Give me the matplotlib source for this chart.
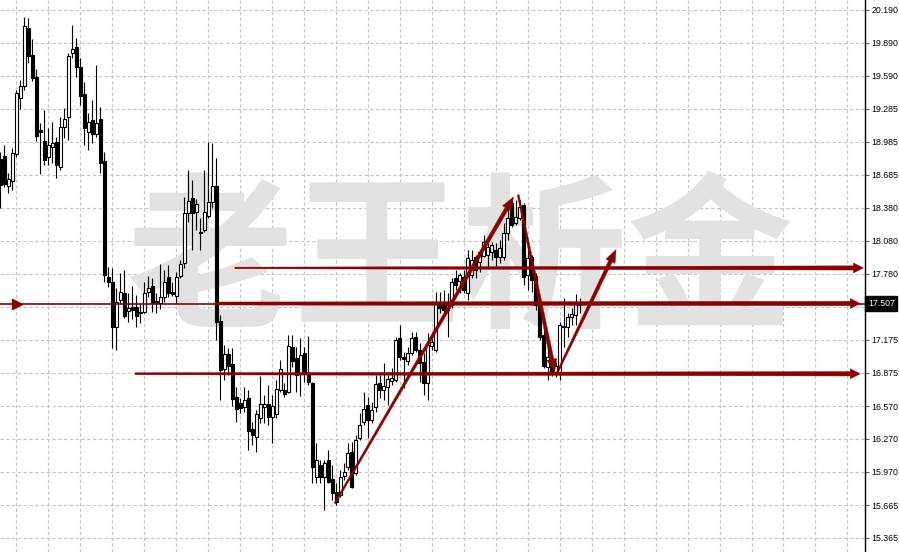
import numpy as np
import matplotlib.pyplot as plt
from matplotlib.patches import Polygon

plt.rcParams['font.family'] = ['Noto Sans CJK SC', 'DejaVu Sans']

# OHLC, one bar per candle
opens = [18.828, 18.855, 18.581, 18.627, 18.873, 19.385, 19.495, 20.025, 19.778, 19.577,
         19.093, 18.992, 18.846, 18.937, 18.983, 18.755, 19.120, 19.212, 19.797, 19.851,
         19.669, 19.422, 19.074, 19.184, 19.056, 19.193, 18.809, 17.749, 17.703, 17.292,
         17.539, 17.603, 17.438, 17.475, 17.475, 17.429, 17.429, 17.612, 17.667, 17.530,
         17.512, 17.566, 17.749, 17.612, 17.576, 17.758, 17.877, 18.334, 18.471, 18.343,
         18.160, 18.179, 18.307, 18.435, 18.581, 17.347, 16.909, 17.045, 16.954, 16.652,
         16.598, 16.561, 16.643, 16.360, 16.287, 16.460, 16.561, 16.588, 16.470, 16.497,
         16.717, 16.717, 16.698, 17.110, 17.009, 16.863, 17.054, 16.872, 16.780, 15.921,
         16.031, 15.921, 16.077, 15.903, 15.784, 15.757, 15.930, 16.013, 16.150, 15.958,
         16.278, 16.424, 16.579, 16.442, 16.561, 16.780, 16.717, 16.744, 16.799, 16.808,
         17.192, 17.018, 16.982, 17.054, 17.201, 17.082, 16.972, 16.780, 17.119, 17.082,
         17.521, 17.521, 17.447, 17.493, 17.740, 17.712, 17.749, 17.603, 17.767, 17.932,
         17.886, 17.941, 17.950, 17.978, 17.996, 17.932, 17.932, 18.151, 18.426, 18.243,
         18.288, 18.407, 17.767, 17.932, 17.758, 17.493, 17.219, 16.927, 16.963, 16.872,
         16.863, 17.292, 17.292, 17.384, 17.402, 17.493]
closes = [18.590, 18.599, 18.645, 18.883, 19.431, 19.495, 20.043, 19.769, 19.568, 19.038,
          19.074, 18.819, 18.956, 18.974, 18.773, 19.120, 19.193, 19.769, 19.833, 19.669,
          19.404, 19.111, 19.166, 19.056, 19.157, 18.791, 17.767, 17.703, 17.292, 17.521,
          17.612, 17.393, 17.466, 17.447, 17.393, 17.420, 17.603, 17.649, 17.512, 17.512,
          17.566, 17.703, 17.603, 17.594, 17.749, 17.868, 18.334, 18.444, 18.334, 18.416,
          18.151, 18.343, 18.435, 18.581, 17.338, 16.899, 17.045, 16.936, 16.634, 16.543,
          16.552, 16.625, 16.342, 16.305, 16.497, 16.588, 16.588, 16.470, 16.570, 16.726,
          16.909, 16.680, 17.119, 16.982, 16.854, 17.036, 16.872, 16.790, 16.013, 16.077,
          15.921, 16.049, 15.875, 15.775, 15.693, 15.921, 15.967, 16.141, 15.830, 16.259,
          16.396, 16.543, 16.442, 16.534, 16.771, 16.717, 16.753, 16.817, 16.826, 17.173,
          17.018, 17.000, 17.054, 17.192, 17.082, 16.963, 16.780, 17.128, 17.155, 17.521,
          17.466, 17.447, 17.493, 17.703, 17.676, 17.767, 17.630, 17.923, 17.905, 17.813,
          17.978, 18.069, 18.023, 18.041, 17.932, 18.014, 18.151, 18.288, 18.224, 18.297,
          18.389, 17.749, 17.923, 17.722, 17.493, 17.201, 16.936, 17.018, 16.881, 16.936,
          17.310, 17.301, 17.384, 17.411, 17.521, 17.507]
highs = [18.892, 18.956, 18.700, 18.928, 19.458, 19.550, 20.126, 20.117, 19.925, 19.650,
         19.157, 19.276, 19.111, 19.166, 19.029, 19.212, 19.294, 19.797, 20.052, 19.934,
         19.751, 19.531, 19.248, 19.367, 19.687, 19.303, 18.892, 17.841, 17.832, 17.649,
         17.786, 17.813, 17.603, 17.667, 17.585, 17.502, 17.703, 17.758, 17.740, 17.603,
         17.868, 17.813, 17.859, 17.703, 17.795, 17.905, 18.480, 18.727, 18.636, 18.462,
         18.288, 18.727, 18.983, 18.974, 18.837, 17.402, 17.128, 17.100, 17.100, 16.744,
         16.643, 16.744, 16.717, 16.424, 16.534, 16.845, 16.671, 16.762, 16.671, 16.808,
         16.991, 16.780, 17.219, 17.219, 17.110, 17.192, 17.110, 17.210, 16.790, 16.232,
         16.077, 16.077, 16.168, 16.031, 15.866, 15.985, 16.049, 16.232, 16.241, 16.305,
         16.506, 16.698, 16.652, 16.607, 16.854, 16.854, 16.963, 16.854, 16.918, 17.201,
         17.310, 17.064, 17.110, 17.247, 17.247, 17.146, 17.054, 17.238, 17.238, 17.612,
         17.612, 17.630, 17.603, 17.740, 17.813, 17.786, 17.813, 17.996, 17.996, 17.950,
         17.996, 18.133, 18.060, 18.069, 18.060, 18.087, 18.243, 18.380, 18.480, 18.453,
         18.453, 18.426, 17.996, 17.950, 17.786, 17.521, 17.265, 17.091, 16.991, 16.972,
         17.338, 17.557, 17.420, 17.466, 17.594, 17.557]
lows = [18.380, 18.572, 18.517, 18.544, 18.846, 19.285, 19.458, 19.705, 19.541, 18.992,
        18.691, 18.773, 18.773, 18.791, 18.654, 18.727, 19.020, 19.001, 19.751, 19.577,
        19.321, 18.956, 18.910, 18.974, 19.029, 18.700, 17.703, 17.658, 17.100, 17.082,
        17.512, 17.374, 17.338, 17.365, 17.292, 17.329, 17.420, 17.566, 17.429, 17.420,
        17.457, 17.521, 17.566, 17.576, 17.512, 17.740, 17.832, 18.252, 17.996, 18.179,
        17.996, 18.160, 18.288, 18.380, 17.173, 16.625, 16.808, 16.854, 16.570, 16.424,
        16.506, 16.515, 16.168, 16.214, 16.150, 16.415, 16.415, 16.396, 16.232, 16.460,
        16.698, 16.652, 16.689, 16.927, 16.698, 16.661, 16.790, 16.762, 15.866, 15.866,
        15.866, 15.620, 15.866, 15.711, 15.665, 15.738, 15.894, 15.985, 15.821, 15.940,
        16.259, 16.396, 16.278, 16.415, 16.515, 16.643, 16.625, 16.579, 16.762, 16.790,
        16.991, 16.735, 16.945, 17.036, 17.064, 16.790, 16.671, 16.625, 17.082, 17.064,
        17.420, 17.420, 17.201, 17.466, 17.630, 17.603, 17.603, 17.539, 17.740, 17.740,
        17.795, 17.932, 17.841, 17.905, 17.850, 17.877, 17.905, 18.087, 18.206, 18.224,
        18.270, 17.676, 17.630, 17.612, 17.447, 17.173, 16.918, 16.808, 16.845, 16.836,
        16.808, 17.110, 17.201, 17.310, 17.310, 17.420]

price_ticks = [20.190, 19.890, 19.590, 19.285, 18.985, 18.685, 18.380, 18.080, 17.780,
               17.475, 17.175, 16.875, 16.570, 16.270, 15.970, 15.665, 15.365]
last_price = 17.507

# drawn objects: horizontal levels (price, first bar, tip bar) and trend arrows
level_prices = [17.832, 17.507, 16.865]
level_start = [58.7, 53.7, 33.7]
level_tip = [216.0, 215.2, 215.2]
trend_from = [(83.7, 15.68), (129.6, 18.50), (139.3, 16.87)]
trend_to = [(128.4, 18.48), (138.7, 16.88), (154.1, 18.00)]
marker_bar = 4.2

RED = '#8b0000'

fig = plt.figure(figsize=(8.99, 5.52), dpi=100)
ax = fig.add_axes([0, 0, 865 / 899, 1])
ax.set_xlim(-0.1, 216.4)
ax.set_ylim(15.236, 20.281)

# grid
ax.set_xticks(np.arange(4, 217, 8))
ax.tick_params(axis='x', length=0, labelbottom=False)
ax.set_yticks(price_ticks)
# the 17.475 label sits under the current price box
ax.set_yticklabels(['' if abs(v - 17.475) < 1e-6 else f'{v:.3f}' for v in price_ticks],
                   family='Liberation Sans')
ax.yaxis.tick_right()
ax.tick_params(axis='y', length=3, width=0.8, color='#606060', labelsize=6.3, pad=1.5,
               labelcolor='black')
ax.grid(True, linestyle=(0, (3, 2.2)), color='#c4c4c4', linewidth=0.8)
ax.set_axisbelow(True)
for side in ['left', 'top', 'bottom']:
    ax.spines[side].set_visible(False)
ax.spines['right'].set_color('black')
ax.spines['right'].set_linewidth(1.0)

# watermark
ax.text(460 / 865, 1 - 265 / 552, '老王析金', transform=ax.transAxes, fontsize=120,
        color='#e2e2e2', ha='center', va='center', fontweight='bold', zorder=1)

# candles
o = np.array(opens)
c = np.array(closes)
h = np.array(highs)
l = np.array(lows)
x = np.arange(len(o))
up = c >= o
ax.vlines(x, l, h, color='black', linewidth=0.8, zorder=3)
body = np.maximum(np.abs(c - o), 0.004)
ax.bar(x[up], body[up], bottom=np.minimum(o, c)[up], width=0.75, facecolor='white',
       edgecolor='black', linewidth=0.8, zorder=4)
ax.bar(x[~up], body[~up], bottom=np.minimum(o, c)[~up], width=0.75, facecolor='black',
       edgecolor='black', linewidth=0.8, zorder=4)


def taper_arrow(x0, y0, x1, y1, w0, w1, head_len, head_w):
    p0 = ax.transData.transform((x0, y0))
    p1 = ax.transData.transform((x1, y1))
    d = p1 - p0
    u = d / np.hypot(*d)
    n = np.array([-u[1], u[0]])
    b = p1 - u * head_len
    pts = [p0 + n * w0 / 2, b + n * w1 / 2, b + n * head_w / 2, p1,
           b - n * head_w / 2, b - n * w1 / 2, p0 - n * w0 / 2]
    pts = ax.transData.inverted().transform(np.array(pts))
    ax.add_patch(Polygon(pts, closed=True, facecolor=RED, edgecolor=RED,
                         linewidth=0.3, zorder=6))


# thin price line across the whole chart with the left marker
ax.axhline(last_price, color=RED, linewidth=1.2, zorder=5)
ax.plot(marker_bar, last_price, marker='>', markersize=7, color=RED, zorder=6)

widths = [(1.6, 4.2), (3.0, 4.4), (2.0, 4.4)]
for p, s, t, (w0, w1) in zip(level_prices, level_start, level_tip, widths):
    taper_arrow(s, p, t, p, w0, w1, 10, 10)

for (x0, y0), (x1, y1) in zip(trend_from, trend_to):
    taper_arrow(x0, y0, x1, y1, 1.8, 3.8, 13, 10)

# current price box
ax.text(1 + 3 / 865, last_price, f'{last_price:.3f}', transform=ax.get_yaxis_transform(),
        fontsize=6.3, family='Liberation Sans', color='white', ha='left', va='center',
        zorder=7, clip_on=False,
        bbox=dict(facecolor='black', edgecolor='black', pad=1.8))

fig.savefig('out.png', dpi=100)
